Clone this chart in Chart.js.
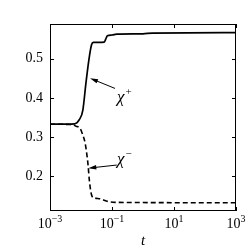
<!DOCTYPE html>
<html>
<head>
<meta charset="utf-8">
<style>
  html, body { margin: 0; padding: 0; background: #fff; }
  #wrap { width: 249px; height: 249px; }
</style>
<script src="https://cdn.jsdelivr.net/npm/chart.js@4.4.0/dist/chart.umd.min.js"></script>
</head>
<body>
<div id="wrap"><canvas id="chiChart" width="249" height="249"></canvas></div>
<script>
// values (t on a log axis)
const tPlus = [0.001, 0.00316, 0.00631, 0.00891, 0.01148, 0.01445, 0.0182, 0.0219, 0.0251, 0.0562, 0.0631, 0.0708, 0.1, 0.141, 1, 2, 1000];
const chiPlus = [0.333, 0.333, 0.334, 0.345, 0.369, 0.438, 0.500, 0.535, 0.541, 0.542, 0.550, 0.558, 0.560, 0.562, 0.563, 0.565, 0.566];

const tMinus = [0.001, 0.00447, 0.00692, 0.00933, 0.01148, 0.0135, 0.0155, 0.0170, 0.0186, 0.0204, 0.0226, 0.0282, 0.0407, 0.0692, 0.126, 1000];
const chiMinus = [0.333, 0.332, 0.328, 0.322, 0.305, 0.286, 0.255, 0.227, 0.190, 0.165, 0.150, 0.145, 0.143, 0.137, 0.134, 0.133];

const xTicks = [0.001, 0.1, 10, 1000];
const yTicks = [0.2, 0.3, 0.4, 0.5];

// arrow annotations: [label, sign, tip t, tip v, tail t, tail v, label t, label v]
const notes = [
  ['\u03c7', '+', 0.0195, 0.450, 0.125, 0.424, 0.145, 0.400],
  ['\u03c7', '\u2212', 0.0172, 0.221, 0.142, 0.229, 0.145, 0.242]
];

const serif = '"Liberation Serif", "DejaVu Serif", serif';

// box, inward ticks, x tick labels, axis title and arrows
const framePlugin = {
  id: 'frame',
  afterDraw(chart) {
    const ctx = chart.ctx;
    const a = chart.chartArea;
    const x = chart.scales.x, y = chart.scales.y;
    ctx.save();
    ctx.strokeStyle = '#000';
    ctx.lineWidth = 1;
    ctx.strokeRect(a.left + 0.5, a.top + 0.5, a.right - a.left - 1, a.bottom - a.top - 1);

    ctx.beginPath();
    xTicks.forEach(v => {
      const px = Math.round(x.getPixelForValue(v)) + 0.5;
      ctx.moveTo(px, a.bottom); ctx.lineTo(px, a.bottom - 4);
      ctx.moveTo(px, a.top); ctx.lineTo(px, a.top + 4);
    });
    yTicks.forEach(v => {
      const py = Math.round(y.getPixelForValue(v)) + 0.5;
      ctx.moveTo(a.left, py); ctx.lineTo(a.left + 4, py);
      ctx.moveTo(a.right, py); ctx.lineTo(a.right - 4, py);
    });
    ctx.stroke();

    // x tick labels as 10 with a raised exponent
    ctx.fillStyle = '#000';
    ctx.textBaseline = 'alphabetic';
    ctx.textAlign = 'left';
    xTicks.forEach(v => {
      const e = Math.round(Math.log10(v));
      const ex = (e < 0 ? '\u2212' : '') + Math.abs(e);
      ctx.font = '14px ' + serif;
      const w1 = ctx.measureText('10').width;
      ctx.font = '10px ' + serif;
      const w2 = ctx.measureText(ex).width;
      const px = x.getPixelForValue(v) - (w1 + w2) / 2;
      ctx.font = '14px ' + serif;
      ctx.fillText('10', px, 228);
      ctx.font = '10px ' + serif;
      ctx.fillText(ex, px + w1, 222);
    });

    ctx.font = 'italic 15px ' + serif;
    ctx.textAlign = 'center';
    ctx.fillText('t', (a.left + a.right) / 2 + 0, 245);

    // arrows with labels
    notes.forEach(n => {
      const x1 = x.getPixelForValue(n[2]), y1 = y.getPixelForValue(n[3]);
      const x0 = x.getPixelForValue(n[4]), y0 = y.getPixelForValue(n[5]);
      const ang = Math.atan2(y1 - y0, x1 - x0);
      ctx.lineWidth = 1;
      ctx.beginPath();
      ctx.moveTo(x0, y0);
      ctx.lineTo(x1 - 6 * Math.cos(ang), y1 - 6 * Math.sin(ang));
      ctx.stroke();
      ctx.beginPath();
      ctx.moveTo(x1, y1);
      ctx.lineTo(x1 - 8 * Math.cos(ang) + 2.2 * Math.sin(ang), y1 - 8 * Math.sin(ang) - 2.2 * Math.cos(ang));
      ctx.lineTo(x1 - 8 * Math.cos(ang) - 2.2 * Math.sin(ang), y1 - 8 * Math.sin(ang) + 2.2 * Math.cos(ang));
      ctx.closePath();
      ctx.fill();

      const lx = x.getPixelForValue(n[6]), ly = y.getPixelForValue(n[7]);
      ctx.textAlign = 'left';
      ctx.textBaseline = 'middle';
      ctx.font = 'italic 17px ' + serif;
      ctx.fillText(n[0], lx, ly);
      const w = ctx.measureText(n[0]).width;
      ctx.font = '11px ' + serif;
      ctx.fillText(n[1], lx + w + 1, ly - 6);
    });
    ctx.restore();
  }
};

window.onload = () => {
  const ctx = document.getElementById('chiChart').getContext('2d');
  new Chart(ctx, {
    type: 'line',
    data: {
      datasets: [{
        label: 'chi+',
        data: tPlus.map((t, i) => ({ x: t, y: chiPlus[i] })),
        borderColor: '#000',
        borderWidth: 1.7,
        pointRadius: 0,
        cubicInterpolationMode: 'monotone'
      }, {
        label: 'chi-',
        data: tMinus.map((t, i) => ({ x: t, y: chiMinus[i] })),
        borderColor: '#000',
        borderWidth: 1.6,
        borderDash: [5, 3],
        pointRadius: 0,
        cubicInterpolationMode: 'monotone'
      }]
    },
    options: {
      responsive: false,
      animation: false,
      layout: { padding: { top: 24, right: 13, left: 0, bottom: 0 } },
      plugins: { legend: { display: false }, tooltip: { enabled: false } },
      scales: {
        x: {
          type: 'logarithmic',
          min: 0.001,
          max: 1000,
          grid: { display: false },
          border: { display: false },
          ticks: { display: false },
          afterBuildTicks: s => { s.ticks = xTicks.map(v => ({ value: v })); },
          afterFit: s => { s.height = 38; }
        },
        y: {
          min: 0.112,
          max: 0.588,
          grid: { display: false, drawTicks: false },
          border: { display: false },
          ticks: {
            color: '#000',
            padding: 7,
            font: { family: serif, size: 14 },
            callback: v => v.toFixed(1)
          },
          afterBuildTicks: s => { s.ticks = yTicks.map(v => ({ value: v })); },
          afterFit: s => { s.width = 50; }
        }
      }
    },
    plugins: [framePlugin]
  });
};
</script>
</body>
</html>
